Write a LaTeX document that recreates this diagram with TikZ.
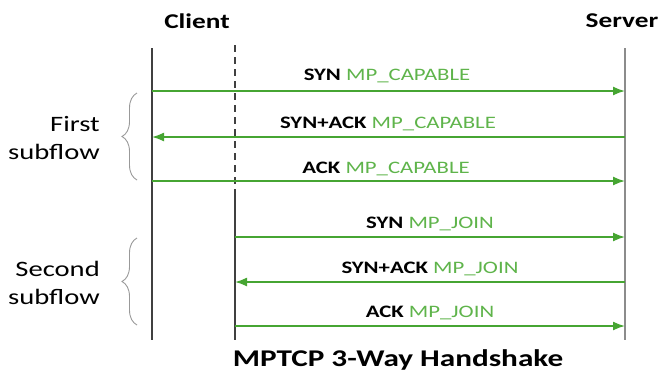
\documentclass[tikz,border=0pt]{standalone}
\usepackage{fontspec}
\setmainfont{Carlito}
\usetikzlibrary{decorations.pathreplacing,arrows.meta}
\definecolor{msggreen}{RGB}{70,165,50}
\definecolor{optgreen}{RGB}{95,180,75}
\newcommand{\opt}[1]{\textcolor{optgreen}{\mdseries #1}}
\newcommand{\wide}[1]{\scalebox{1.3}[1]{#1}}
\begin{document}
\begin{tikzpicture}[x=1pt, y=-1pt,
        life/.style={draw=black!75, line width=1.3pt},
        msg/.style={draw=msggreen, line width=1.6pt, -{Latex[length=12pt,width=9pt]}},
        lbl/.style={font=\fontsize{17.5}{20}\selectfont\bfseries, inner sep=0pt},
        who/.style={font=\fontsize{21}{24}\selectfont\bfseries, inner sep=0pt},
        brc/.style={draw=black!40, line width=0.9pt, decorate, decoration={brace, amplitude=15pt}},
        side/.style={font=\fontsize{22}{28}\selectfont, align=right, inner sep=0pt},
    ]
    \useasboundingbox (0,0) rectangle (663,373);

    \node[who] (client) at (197,21) {\wide{Client}};
    \node[who] (server) at (622,21) {\wide{Server}};

    % lifelines
    \coordinate (c top) at (152,48);
    \coordinate (c bot) at (152,340);
    \coordinate (d top) at (235,45);
    \coordinate (d mid) at (235,190);
    \coordinate (d bot) at (235,340);
    \coordinate (s top) at (625,48);
    \coordinate (s bot) at (625,340);
    \draw[life] (c top) -- (c bot);
    \draw[life, dash pattern=on 7pt off 5pt] (d top) -- (d mid);
    \draw[life] (d mid) -- (d bot);
    \draw[life, draw=black!45] (s top) -- (s bot);

    % first subflow
    \coordinate (c1) at (152,91);  \coordinate (s1) at (625,91);
    \coordinate (c2) at (152,137); \coordinate (s2) at (625,137);
    \coordinate (c3) at (152,181); \coordinate (s3) at (625,181);
    \draw[msg] (c1) -- (s1);
    \draw[msg] (s2) -- (c2);
    \draw[msg] (c3) -- (s3);
    \node[lbl] (m1) at (387,76) {\wide{SYN \opt{MP\_CAPABLE}}};
    \node[lbl] (m2) at (388,124) {\wide{SYN+ACK \opt{MP\_CAPABLE}}};
    \node[lbl] (m3) at (386,169) {\wide{ACK \opt{MP\_CAPABLE}}};

    % second subflow
    \coordinate (c4) at (235,237); \coordinate (s4) at (625,237);
    \coordinate (c5) at (235,282); \coordinate (s5) at (625,282);
    \coordinate (c6) at (235,326); \coordinate (s6) at (625,326);
    \draw[msg] (c4) -- (s4);
    \draw[msg] (s5) -- (c5);
    \draw[msg] (c6) -- (s6);
    \node[lbl] (m4) at (430,224) {\wide{SYN \opt{MP\_JOIN}}};
    \node[lbl] (m5) at (430,269) {\wide{SYN+ACK \opt{MP\_JOIN}}};
    \node[lbl] (m6) at (430,313) {\wide{ACK \opt{MP\_JOIN}}};

    % braces
    \coordinate (b1 top) at (137,93);
    \coordinate (b1 bot) at (137,180);
    \coordinate (b2 top) at (137,238);
    \coordinate (b2 bot) at (137,325);
    \draw[brc] (b1 bot) -- (b1 top);
    \draw[brc] (b2 bot) -- (b2 top);
    \node[side, anchor=east] (first) at (100,138) {\wide{First}\\\wide{subflow}};
    \node[side, anchor=east] (second) at (100,283) {\wide{Second}\\\wide{subflow}};

    \node[font=\fontsize{24}{27}\selectfont\bfseries] (title) at (398,360) {\wide{MPTCP 3-Way Handshake}};
\end{tikzpicture}
\end{document}
